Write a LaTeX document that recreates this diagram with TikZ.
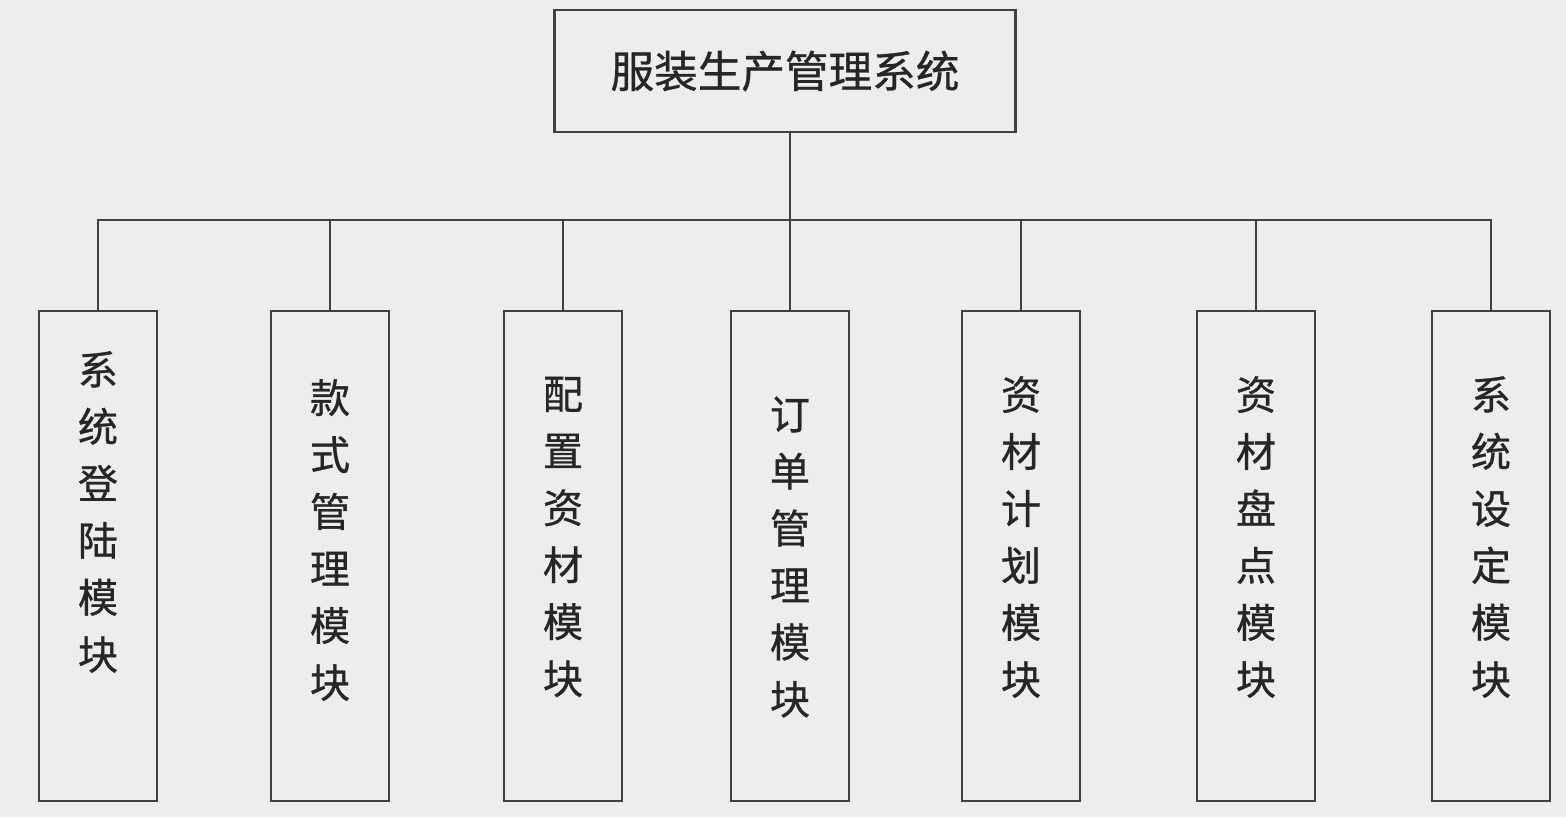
\documentclass[tikz,border=0pt]{standalone}
\usepackage{fontspec}
\newfontfamily\cjk[FakeBold=0.8]{Noto Sans CJK SC}
\usepackage{xcolor}
\usetikzlibrary{positioning,calc}
\definecolor{paper}{HTML}{EDEDED}
\definecolor{ink}{HTML}{404040}
\definecolor{txt}{HTML}{262626}

\begin{document}
\begin{tikzpicture}[
  x=0.01cm, y=-0.01cm,
  sysbox/.style={draw=ink, line width=0.75pt, fill=paper, minimum width=4.61cm, minimum height=1.22cm, inner sep=0pt},
  modbox/.style={draw=ink, line width=0.75pt, fill=paper, minimum width=1.18cm, minimum height=4.90cm, inner sep=0pt},
  modtxt/.style={align=center, inner sep=0pt, text=txt, font=\fontsize{11.4pt}{16.2pt}\selectfont\cjk},
  link/.style={draw=ink, line width=0.75pt},
]
\useasboundingbox[fill=paper] (0,0) rectangle (1566,817);

\node[sysbox, text=txt, font=\fontsize{12.4pt}{14pt}\selectfont\cjk] (sys) at (785,71) {服装生产管理系统};

\node[modbox] (m1) at (98,556) {};
\node[modbox] (m2) at (330,556) {};
\node[modbox] (m3) at (563,556) {};
\node[modbox] (m4) at (790,556) {};
\node[modbox] (m5) at (1021,556) {};
\node[modbox] (m6) at (1256,556) {};
\node[modbox] (m7) at (1491,556) {};

\node[modtxt] (t1) at (98,512) {系\\统\\登\\陆\\模\\块};
\node[modtxt] (t2) at (330,540) {款\\式\\管\\理\\模\\块};
\node[modtxt] (t3) at (563,537) {配\\置\\资\\材\\模\\块};
\node[modtxt] (t4) at (790,557) {订\\单\\管\\理\\模\\块};
\node[modtxt] (t5) at (1021,537) {资\\材\\计\\划\\模\\块};
\node[modtxt] (t6) at (1256,537) {资\\材\\盘\\点\\模\\块};
\node[modtxt] (t7) at (1491,537) {系\\统\\设\\定\\模\\块};

\coordinate (bus) at (790,220);

\draw[link] (m4.north |- sys.south) -- (m4.north);
\draw[link] (m1.north) |- (bus) -| (m7.north);
\draw[link] (m2.north) -- (m2.north |- bus);
\draw[link] (m3.north) -- (m3.north |- bus);
\draw[link] (m5.north) -- (m5.north |- bus);
\draw[link] (m6.north) -- (m6.north |- bus);

\end{tikzpicture}
\end{document}
